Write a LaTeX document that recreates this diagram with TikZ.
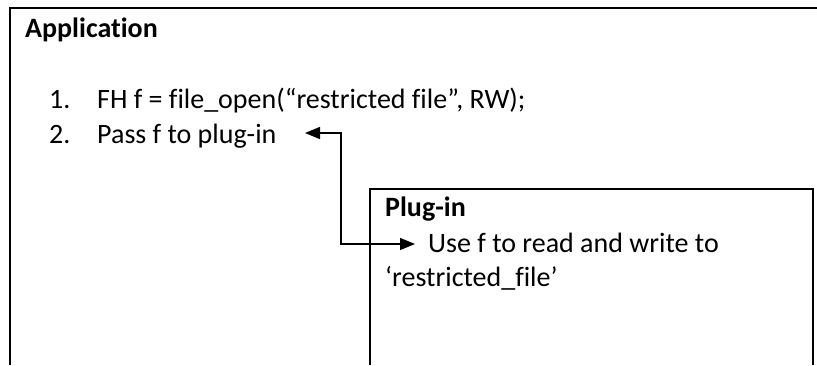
\documentclass[tikz,border=0pt]{standalone}
\usepackage{fontspec}
\setmainfont{Carlito}[Ligatures={NoCommon,TeX}]
\usetikzlibrary{arrows.meta}
\tikzset{
  txt/.style={inner sep=0pt, anchor=base west, font=\fontsize{28}{34}\selectfont},
  btxt/.style={txt, font=\fontsize{28}{34}\selectfont\bfseries},
  frame/.style={line width=2.6pt},
  pframe/.style={line width=2pt},
  conn/.style={line width=1.5pt, {Triangle[length=15pt,width=12pt]}-{Triangle[length=15pt,width=12pt]}}
}
\begin{document}
\begin{tikzpicture}[x=1pt,y=-1pt]
\useasboundingbox[fill=white] (0,0) rectangle (817,365);
% outer application box (cut off at right and bottom)
\draw[frame] (10,365) -- (10,8) -- (817,8);
% plug-in box
\draw[pframe] (370,365) -- (370,189) -- (813,189) -- (813,365);
% texts
\node[btxt] (app) at (25,37) {Application};
\node[txt] (n1) at (49,108) {1.};
\node[txt] (t1) at (97,108) {FH f = file\_open(“restricted file”, RW);};
\node[txt] (n2) at (49,143) {2.};
\node[txt] (t2) at (97,143) {Pass f to plug-in};
\node[btxt] (plug) at (385,216) {Plug-in};
\node[txt] (use) at (428,252) {Use f to read and write to};
\node[txt] (rf) at (385,286) {‘restricted\_file’};
% connector
\coordinate (ltip) at (305,133);
\coordinate (bend) at (341,244);
\coordinate (rtip) at (415,244);
\draw[conn] (ltip) -| (bend) -- (rtip);
\end{tikzpicture}
\end{document}
